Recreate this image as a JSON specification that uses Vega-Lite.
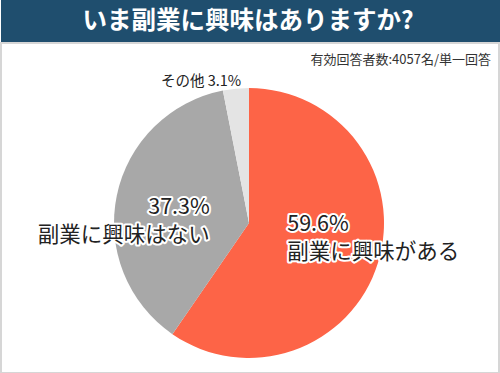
{
  "$schema": "https://vega.github.io/schema/vega-lite/v6.json",
  "padding": 0,
  "background": "white",
  "spacing": 0,
  "config": {"concat": {"spacing": 0}, "font": "Noto Sans CJK JP"},
  "datasets": {
    "answers": [
      {"order": 1, "category": "副業に興味がある", "pct": 59.6, "label": ["59.6%", "副業に興味がある"]},
      {"order": 2, "category": "副業に興味はない", "pct": 37.3, "label": ["37.3%", "副業に興味はない"]},
      {"order": 3, "category": "その他", "pct": 3.1, "label": ["その他 3.1%"]}
    ]
  },
  "vconcat": [
    {
      "width": 500,
      "height": 42,
      "view": {"fill": "#1f4e6e", "stroke": null},
      "data": {"values": [{"title": "いま副業に興味はありますか?"}]},
      "mark": {"type": "text", "color": "white", "fontSize": 24.5, "fontWeight": "bold", "baseline": "middle", "align": "center", "dx": -3, "dy": 1},
      "encoding": {"text": {"field": "title"}}
    },
    {
      "width": 498,
      "height": 330,
      "view": {"stroke": "#d6d6d6", "strokeWidth": 2},
      "title": {"text": "有効回答者数:4057名/単一回答", "anchor": "end", "orient": "top", "offset": -24, "dx": -8, "fontSize": 13, "fontWeight": "normal", "color": "#333333"},
      "data": {"name": "answers"},
      "encoding": {
        "theta": {"field": "pct", "type": "quantitative", "stack": true},
        "order": {"field": "order", "type": "quantitative"}
      },
      "layer": [
        {
          "mark": {"type": "arc", "outerRadius": 135, "xOffset": -1, "yOffset": 15},
          "encoding": {
            "color": {"field": "category", "type": "nominal", "legend": null,
              "scale": {"domain": ["副業に興味がある", "副業に興味はない", "その他"], "range": ["#fd6447", "#a8a8a8", "#e4e4e4"]}}
          }
        },
        {
          "mark": {"type": "text", "baseline": "middle", "lineHeight": 28.5, "stroke": "white", "strokeWidth": 4, "strokeJoin": "round", "fill": "white", "xOffset": -1, "yOffset": 15,
            "radius": {"expr": "datum.order == 3 ? 142 : 40"},
            "align": {"expr": "datum.order == 1 ? 'left' : 'right'"},
            "fontSize": {"expr": "datum.order == 3 ? 14.5 : 21.5"},
            "strokeOpacity": {"expr": "datum.order == 3 ? 0 : 1"},
            "fillOpacity": {"expr": "datum.order == 3 ? 0 : 1"},
            "dx": {"expr": "datum.order == 3 ? 6 : 0"},
            "dy": {"expr": "datum.order == 2 ? -7 : datum.order == 1 ? -10 : 0"}},
          "encoding": {"text": {"field": "label"}}
        },
        {
          "mark": {"type": "text", "baseline": "middle", "lineHeight": 28.5, "fill": "#222222", "xOffset": -1, "yOffset": 15,
            "radius": {"expr": "datum.order == 3 ? 142 : 40"},
            "align": {"expr": "datum.order == 1 ? 'left' : 'right'"},
            "fontSize": {"expr": "datum.order == 3 ? 14.5 : 21.5"},
            "dx": {"expr": "datum.order == 3 ? 6 : 0"},
            "dy": {"expr": "datum.order == 2 ? -7 : datum.order == 1 ? -10 : 0"}},
          "encoding": {"text": {"field": "label"}}
        }
      ]
    }
  ]
}
